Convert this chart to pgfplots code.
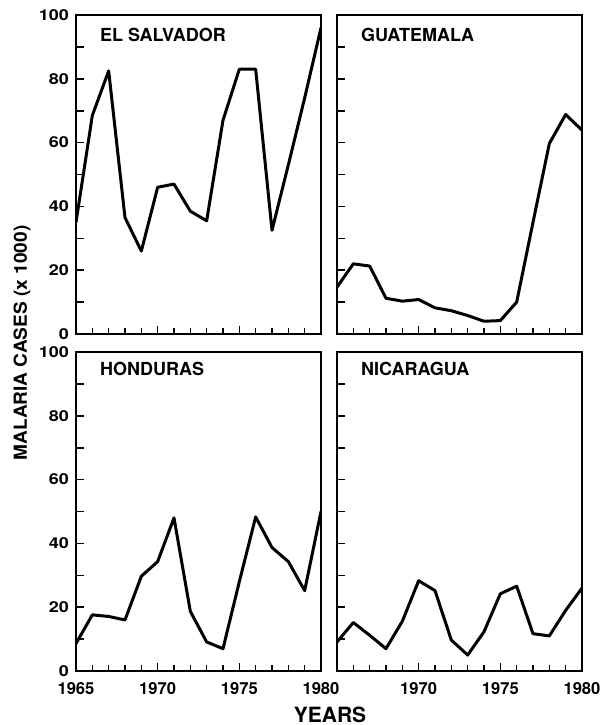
\documentclass[border=0pt]{standalone}
\usepackage{fontspec}
\setmainfont{TeX Gyre Heros}
\newfontfamily\widefont{TeX Gyre Heros}[FakeStretch=1.2]
\newfontfamily\labelfont{TeX Gyre Heros}[FakeStretch=1.06]
\usepackage{pgfplots}
\pgfplotsset{compat=1.18}

\pgfplotsset{
  panel/.style={
    scale only axis, width=122.5pt, height=159.5pt,
    anchor=north west,
    xmin=1965, xmax=1980, ymin=0, ymax=100,
    xtick={1965,1970,1975,1980}, minor x tick num=4,
    ytick={0,10,...,100},
    xtick pos=bottom, ytick pos=left, tick align=inside,
    major tick length=4pt, minor tick length=3pt,
    axis line style={line width=1.2pt},
    every tick/.style={black, line width=0.8pt},
    xticklabel style={font=\bfseries\fontsize{8.3}{9}\selectfont, yshift=-2pt},
    yticklabel style={font=\widefont\bfseries\fontsize{7.5}{8}\selectfont},
    /pgf/number format/assume math mode=true,
    /pgf/number format/1000 sep={},
  },
}
\tikzset{
  series/.style={black, line width=1.5pt, line join=round},
  paneltitle/.style={anchor=west, font=\bfseries\fontsize{9}{10}\selectfont},
}

\begin{document}
\begin{tikzpicture}
\path[use as bounding box] (0,0) rectangle (302pt,-362.5pt);

% El Salvador
\begin{axis}[panel, at={(38pt,-7.5pt)},
  xticklabels={}, yticklabels={0,,20,,40,,60,,80,,100}]
\addplot[series] coordinates {
 (1965,35) (1966,68.5) (1967,82.5) (1968,36.5) (1969,26) (1970,46)
 (1971,47) (1972,38.5) (1973,35.5) (1974,67) (1975,83) (1976,83)
 (1977,32.5) (1978,53) (1979,74) (1980,96)
};
\node[paneltitle] at (rel axis cs:0,1) [xshift=8.5pt, yshift=-10pt] {EL SALVADOR};
\end{axis}

% Guatemala
\begin{axis}[panel, at={(168.5pt,-7.5pt)},
  xticklabels={}, yticklabels={}]
\addplot[series] coordinates {
 (1965,14.7) (1966,22) (1967,21.3) (1968,11.2) (1969,10.3) (1970,10.8)
 (1971,8.2) (1972,7.3) (1973,5.8) (1974,4) (1975,4.2) (1976,10)
 (1977,35) (1978,59.7) (1979,68.8) (1980,63.9)
};
\node[paneltitle] at (rel axis cs:0,1) [xshift=8.5pt, yshift=-10pt] {GUATEMALA};
\end{axis}

% Honduras
\begin{axis}[panel, at={(38pt,-176pt)},
  xticklabels={1965,1970,1975,1980}, yticklabels={0,,20,,40,,60,,80,,100}]
\addplot[series] coordinates {
 (1965,8.6) (1966,17.6) (1967,17.1) (1968,16) (1969,29.7) (1970,34.3)
 (1971,48) (1972,18.7) (1973,9.1) (1974,7) (1975,28) (1976,48.3)
 (1977,38.7) (1978,34.3) (1979,25.2) (1980,50)
};
\node[paneltitle] at (rel axis cs:0,1) [xshift=8.5pt, yshift=-8.5pt] {HONDURAS};
\end{axis}

% Nicaragua
\begin{axis}[panel, at={(168.5pt,-176pt)},
  xticklabels={,1970,1975,1980}, yticklabels={}]
\addplot[series] coordinates {
 (1965,9.1) (1966,15.2) (1967,11.2) (1968,7) (1969,15.6) (1970,28.3)
 (1971,25.2) (1972,9.7) (1973,5) (1974,12.3) (1975,24.2) (1976,26.6)
 (1977,11.7) (1978,11) (1979,19) (1980,26)
};
\node[paneltitle] at (rel axis cs:0,1) [xshift=8.5pt, yshift=-8.5pt] {NICARAGUA};
\end{axis}

\node[rotate=90, font=\labelfont\bfseries\fontsize{9}{10}\selectfont] at (11pt,-171.5pt) {MALARIA CASES (x 1000)};
\node[font=\bfseries\fontsize{10.5}{12}\selectfont] at (165pt,-357.5pt) {YEARS};
\end{tikzpicture}
\end{document}
